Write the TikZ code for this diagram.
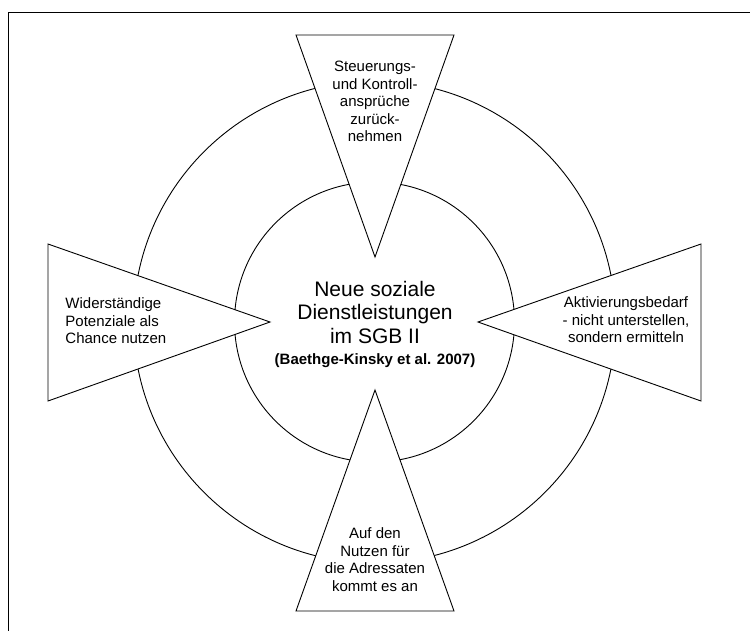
\documentclass[tikz,border=0pt]{standalone}
\usepackage{fontspec}
\setmainfont{Liberation Sans}
\usetikzlibrary{positioning}
\begin{document}
\begin{tikzpicture}[x=1pt, y=-1pt, line width=.9pt]
\tikzset{ring/.style={draw=black}, wedge/.style={draw=black, fill=white, line join=miter}, small/.style={font=\fontsize{15}{17.5}\selectfont, inner sep=0pt, align=center}, big/.style={font=\fontsize{21}{23.5}\selectfont, inner sep=0pt, align=center}, cite/.style={font=\bfseries\fontsize{15}{17}\selectfont, inner sep=0pt}}
\useasboundingbox (0,0) rectangle (750,630);
% frame, only top and left edge inside the page
\draw (8,650) -- (8,12) -- (770,12);
\coordinate (c) at (374.5,322);
\foreach \r in {241,140} \draw[ring] (c) circle[radius=\r pt];
% the four wedges
\draw[wedge] (296,35) -- (454,35) -- (375,257) -- cycle;
\draw[wedge] (296,611) -- (454,611) -- (375,390) -- cycle;
\draw[wedge] (48,244) -- (48,401) -- (270,322) -- cycle;
\draw[wedge] (701,244) -- (701,401) -- (478,322) -- cycle;
\node[big] (title) at (375,312.4) {Neue soziale\\Dienstleistungen\\im SGB II};
\node[cite, anchor=base] (cite) at (375,364) {(Baethge-Kinsky et al. 2007)};
\node[small] (steuerung) at (375,101.5) {Steuerungs-\\und Kontroll-\\ansprüche\\zurück-\\nehmen};
\node[small, align=left, anchor=west] (potenziale) at (65,321) {Widerständige\\Potenziale als\\Chance nutzen};
\node[small] (aktivierung) at (626,320) {Aktivierungsbedarf\\- nicht unterstellen,\\sondern ermitteln};
\node[small] (nutzen) at (375,559.5) {Auf den\\Nutzen für\\die Adressaten\\kommt es an};
\end{tikzpicture}
\end{document}
